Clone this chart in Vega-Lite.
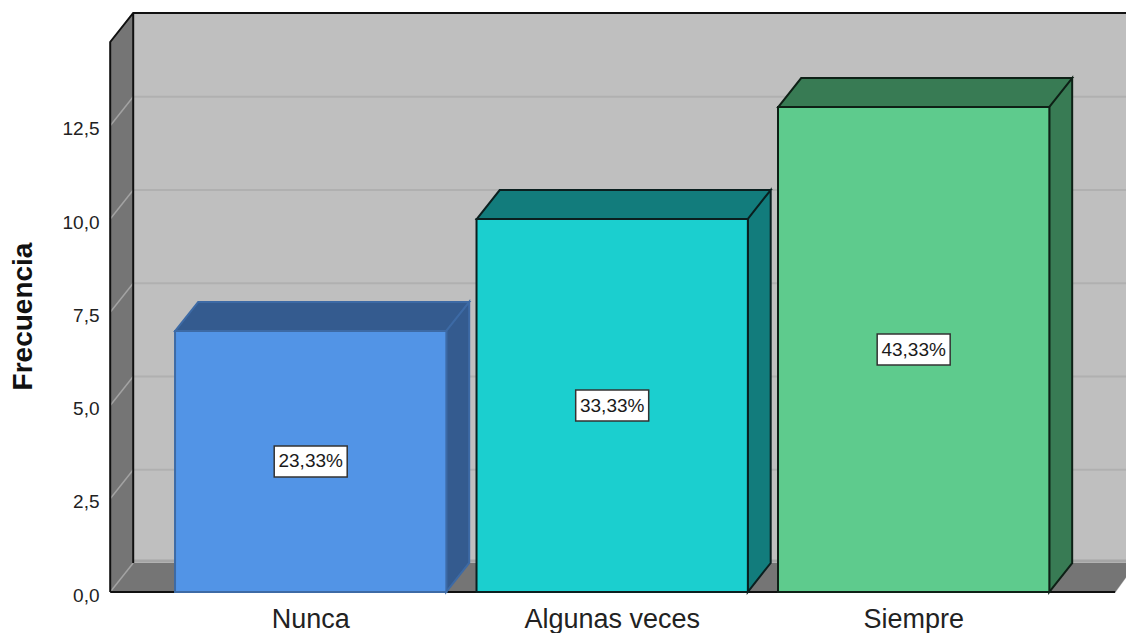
{
"$schema":"https://vega.github.io/schema/vega-lite/v6.json",
"width":1016,"height":579,
"autosize":{"type":"none"},
"padding":{"left":110,"top":13,"right":0,"bottom":41},
"background":"#ffffff",
"view":{"fill":"#bfbfbf","stroke":null},
"config":{"font":"Liberation Sans"},
"datasets":{
"barras":[
{"categoria":"Nunca","frecuencia":7,"mitad":3.5,"etiqueta":"23,33%"},
{"categoria":"Algunas veces","frecuencia":10,"mitad":5,"etiqueta":"33,33%"},
{"categoria":"Siempre","frecuencia":13,"mitad":6.5,"etiqueta":"43,33%"}],
"marcas":[{"v":0},{"v":2.5},{"v":5},{"v":7.5},{"v":10},{"v":12.5}],
"rejilla":[{"v":2.5},{"v":5},{"v":7.5},{"v":10},{"v":12.5}],
"pared":[{"v":0}]
},
"data":{"name":"barras"},
"encoding":{
"x":{"field":"categoria","type":"nominal","sort":null,"title":null,
"scale":{"domain":["Nunca","Algunas veces","Siempre"],"paddingInner":0.1,"paddingOuter":0.235,"align":0.459},
"axis":{"domain":false,"ticks":false,"labelAngle":0,"labelFontSize":27,"labelColor":"#222222","labelPadding":14}},
"y":{"field":"frecuencia","type":"quantitative",
"scale":{"domain":[0,15.523],"nice":false,"zero":true},
"axis":{"title":"Frecuencia","values":[0,2.5,5,7.5,10,12.5],"grid":false,"domain":false,"ticks":false,
"labelExpr":"replace(format(datum.value,'.1f'),'.',',')","labelFontSize":19,"labelColor":"#222222","labelPadding":11,"labelOffset":3,
"titleFontSize":28,"titleFontWeight":"bold","titleColor":"#111111","titleX":-73,"titleY":303,"titleAlign":"center"}}
},
"layer":[
{"data":{"name":"pared"},
 "mark":{"type":"point","shape":"M-201 -550L-201 -580L-177.5 -580ZM804.5 1L816 1L816 -15Z","size":4,"filled":true,"fill":"#ffffff","stroke":null,"opacity":1},
 "encoding":{"x":{"datum":"Nunca","type":"nominal"},"y":{"field":"v","type":"quantitative"}}},
{"data":{"name":"rejilla"},
 "mark":{"type":"point","shape":"M-177.5 -29L815.5 -29","size":4,"filled":false,"stroke":"#b0b0b0","strokeWidth":2,"opacity":1},
 "encoding":{"x":{"datum":"Nunca","type":"nominal"},"y":{"field":"v","type":"quantitative"}}},
{"data":{"name":"pared"},
 "mark":{"type":"point","shape":"M-177.5 -31L815.5 -31","size":4,"filled":false,"stroke":"#a6a6a6","strokeWidth":3,"opacity":1},
 "encoding":{"x":{"datum":"Nunca","type":"nominal"},"y":{"field":"v","type":"quantitative"}}},
{"data":{"name":"pared"},
 "mark":{"type":"point","shape":"M-200.5 0L-177.5 -29L-177.5 -579L-200.5 -550ZM-200.5 0L-177.5 -29L815.5 -29L815.5 -15L804.5 0Z","size":4,"filled":true,"fill":"#757575","stroke":null,"opacity":1},
 "encoding":{"x":{"datum":"Nunca","type":"nominal"},"y":{"field":"v","type":"quantitative"}}},
{"data":{"name":"marcas"},
 "mark":{"type":"point","shape":"M-200.5 0L-177.5 -29","size":4,"filled":false,"stroke":"#a3a3a3","strokeWidth":1.5,"opacity":1},
 "encoding":{"x":{"datum":"Nunca","type":"nominal"},"y":{"field":"v","type":"quantitative"}}},
{"data":{"name":"pared"},
 "mark":{"type":"point","shape":"M-200.5 0L-200.5 -550L-177.5 -579L815.5 -579M-177.5 -579L-177.5 -29M-200.5 0L804.5 0","size":4,"filled":false,"stroke":"#111111","strokeWidth":2,"opacity":1},
 "encoding":{"x":{"datum":"Nunca","type":"nominal"},"y":{"field":"v","type":"quantitative"}}},
{"mark":{"type":"point","size":4,"filled":true,"strokeWidth":2,"opacity":1},
 "encoding":{
  "shape":{"field":"categoria","type":"nominal","legend":null,"scale":{"domain":["Nunca","Algunas veces","Siempre"],"range":[
   "M135.5 0L158.5 -29L158.5 232L135.5 261ZM-135.5 0L-112.5 -29L158.5 -29L135.5 0Z",
   "M135.5 0L158.5 -29L158.5 344L135.5 373ZM-135.5 0L-112.5 -29L158.5 -29L135.5 0Z",
   "M135.5 0L158.5 -29L158.5 456L135.5 485ZM-135.5 0L-112.5 -29L158.5 -29L135.5 0Z"]}},
  "fill":{"field":"categoria","type":"nominal","legend":null,"scale":{"domain":["Nunca","Algunas veces","Siempre"],"range":["#345b8f","#127c7c","#387b54"]}},
  "stroke":{"field":"categoria","type":"nominal","legend":null,"scale":{"domain":["Nunca","Algunas veces","Siempre"],"range":["#3d6aa5","#0a1f1f","#0e2016"]}}}},
{"mark":{"type":"bar","strokeWidth":2},
 "encoding":{
  "fill":{"field":"categoria","type":"nominal","legend":null,"scale":{"domain":["Nunca","Algunas veces","Siempre"],"range":["#5294e6","#1bcfcf","#5ecb8d"]}},
  "stroke":{"field":"categoria","type":"nominal","legend":null,"scale":{"domain":["Nunca","Algunas veces","Siempre"],"range":["#3d6aa5","#0a1f1f","#0e2016"]}}}},
{"mark":{"type":"point","shape":"M-36.5 -15.5L36.5 -15.5L36.5 15.5L-36.5 15.5Z","size":4,"filled":true,"fill":"#ffffff","stroke":"#333333","strokeWidth":1.5,"opacity":1},
 "encoding":{"y":{"field":"mitad","type":"quantitative"}}},
{"mark":{"type":"text","fontSize":19,"fill":"#1a1a1a"},
 "encoding":{"y":{"field":"mitad","type":"quantitative"},"text":{"field":"etiqueta"}}}
],
"resolve":{"scale":{"fill":"independent"}}
}
